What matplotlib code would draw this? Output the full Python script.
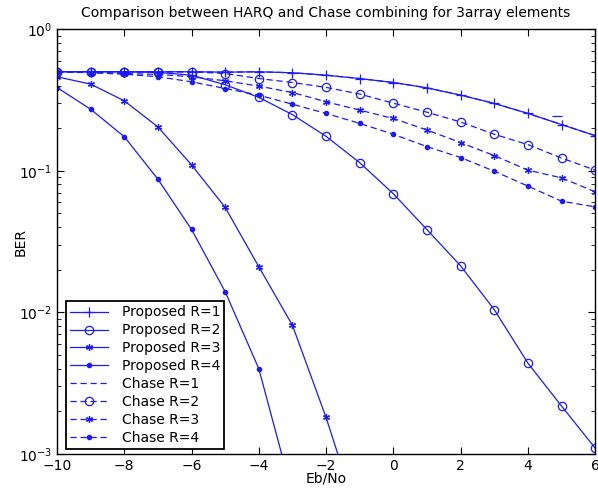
import numpy as np
import matplotlib
matplotlib.use('Agg')
import matplotlib.pyplot as plt
from matplotlib.ticker import LogLocator, NullFormatter

# Eb/No points (dB)
ebno = list(range(-10, 7))

# BER curves
proposed_r1 = [0.50, 0.50, 0.50, 0.50, 0.50, 0.497, 0.50, 0.492, 0.473, 0.448,
               0.420, 0.385, 0.342, 0.299, 0.254, 0.212, 0.177]
proposed_r2 = [0.50, 0.50, 0.50, 0.495, 0.473, 0.405, 0.330, 0.249, 0.175, 0.114,
               0.0688, 0.0384, 0.0213, 0.01045, 0.00438, 0.00218, 0.0011]
proposed_r3 = [0.461, 0.409, 0.312, 0.204, 0.110, 0.0551, 0.0210, 0.0081, 0.00181, 0.00033]
proposed_r4 = [0.387, 0.272, 0.174, 0.0872, 0.0385, 0.0140, 0.0040, 0.00052]
chase_r1 = proposed_r1
chase_r2 = [0.50, 0.50, 0.50, 0.50, 0.50, 0.486, 0.448, 0.420, 0.388, 0.348,
            0.300, 0.259, 0.221, 0.181, 0.153, 0.123, 0.101]
chase_r3 = [0.50, 0.494, 0.486, 0.479, 0.461, 0.432, 0.396, 0.357, 0.307, 0.268,
            0.234, 0.194, 0.158, 0.128, 0.101, 0.0891, 0.0710]
chase_r4 = [0.50, 0.492, 0.481, 0.461, 0.425, 0.381, 0.342, 0.295, 0.254, 0.216,
            0.181, 0.148, 0.124, 0.0993, 0.0779, 0.0610, 0.0556]

# stray mark seen near the R=1 curve
stray_x = [4.85]
stray_y = [0.245]

plt.rcParams['font.family'] = ['DejaVu Sans']

fig = plt.figure(figsize=(5.98, 4.90), dpi=100)
ax = fig.add_axes([0.0953, 0.0735, 0.90, 0.867])

c = '#1a1aff'
lw = 0.9
dash = (0, (5, 3))
ax.semilogy(ebno, proposed_r1, '-', color=c, lw=lw, marker='+', ms=7, mew=0.9, label='Proposed R=1')
ax.semilogy(ebno, proposed_r2, '-', color=c, lw=lw, marker='o', ms=6, mfc='none', mew=0.9, label='Proposed R=2')
ax.semilogy(ebno[:len(proposed_r3)], proposed_r3, '-', color=c, lw=lw, marker=(6, 2, 0), ms=5, mew=0.9, label='Proposed R=3')
ax.semilogy(ebno[:len(proposed_r4)], proposed_r4, '-', color=c, lw=lw, marker='.', ms=6, label='Proposed R=4')
ax.semilogy(ebno, chase_r1, ls=dash, color=c, lw=lw, label='Chase R=1')
ax.semilogy(ebno, chase_r2, ls=dash, color=c, lw=lw, marker='o', ms=6, mfc='none', mew=0.9, label='Chase R=2')
ax.semilogy(ebno, chase_r3, ls=dash, color=c, lw=lw, marker=(6, 2, 0), ms=5, mew=0.9, label='Chase R=3')
ax.semilogy(ebno, chase_r4, ls=dash, color=c, lw=lw, marker='.', ms=6, label='Chase R=4')
ax.semilogy(stray_x, stray_y, ls='none', color=c, marker='_', ms=7, mew=0.9)

ax.set_xlim(-10, 6)
ax.set_ylim(1e-3, 1)
ax.set_xticks(range(-10, 7, 2))
ax.yaxis.set_major_locator(LogLocator(base=10, numticks=10))
ax.yaxis.set_minor_locator(LogLocator(base=10, subs=np.arange(2, 10), numticks=10))
ax.yaxis.set_minor_formatter(NullFormatter())
ax.tick_params(which='both', direction='in', top=True, right=True, labelsize=10)
ax.tick_params(which='major', length=5)
ax.tick_params(which='minor', length=3)
for s in ax.spines.values():
    s.set_linewidth(1.0)

ax.set_title('Comparison between HARQ and Chase combining for 3array elements', fontsize=10, pad=9)
ax.set_xlabel('Eb/No', fontsize=10, labelpad=-1)
ax.set_ylabel('BER', fontsize=10, labelpad=-6)

leg = ax.legend(loc='lower left', bbox_to_anchor=(0.0167, 0.012), fontsize=10, frameon=True,
                fancybox=False, edgecolor='black', framealpha=1, handlelength=2.7,
                borderpad=0.3, labelspacing=0.28, handletextpad=1.0, borderaxespad=0)
leg.get_frame().set_linewidth(1.3)

plt.savefig('out.png', dpi=100)
